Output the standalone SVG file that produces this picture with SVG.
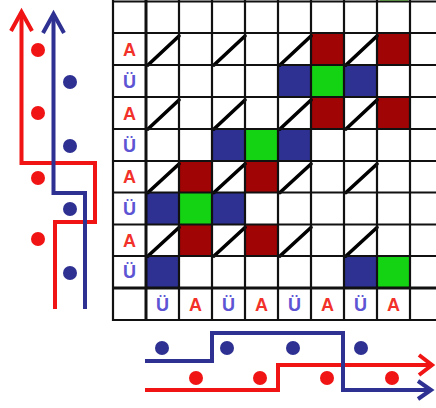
<svg xmlns="http://www.w3.org/2000/svg" width="436" height="408" viewBox="0 0 436 408">
<style>
.dr{fill:#a00404}
.bl{fill:#2e3192}
.gr{fill:#13d313}
.grid{stroke:#111;stroke-width:2.2;fill:none}
.thick{stroke:#111;stroke-width:3;fill:none}
.dg{stroke:#000;stroke-width:3.6;stroke-linecap:round}
.lbl{font-family:"Liberation Sans",Arial,sans-serif;font-weight:bold;font-size:18px;text-anchor:middle}
.a{fill:#f2322a}
.u{fill:#5d55d4}
.rl{stroke:#f01414;stroke-width:4;fill:none}
.bll{stroke:#2e3192;stroke-width:4;fill:none}
.rd{fill:#f01414}
.bd{fill:#2e3192}
</style>
<defs>
<marker id="rUp" markerUnits="userSpaceOnUse" orient="auto" markerWidth="40" markerHeight="40" refX="0" refY="0" viewBox="-30 -20 40 40" overflow="visible">
<path d="M-19,-10.5 L0,0 L-19,10.5" stroke="#f01414" stroke-width="4" fill="none"/>
</marker>
<marker id="bUp" markerUnits="userSpaceOnUse" orient="auto" markerWidth="40" markerHeight="40" refX="0" refY="0" viewBox="-30 -20 40 40" overflow="visible">
<path d="M-19,-10.5 L0,0 L-19,10.5" stroke="#2e3192" stroke-width="4" fill="none"/>
</marker>
<marker id="rR" markerUnits="userSpaceOnUse" orient="auto" markerWidth="40" markerHeight="40" refX="0" refY="0" viewBox="-30 -20 40 40" overflow="visible">
<path d="M-13,-10 L0,0 L-13,10" stroke="#f01414" stroke-width="4" fill="none"/>
</marker>
<marker id="bR" markerUnits="userSpaceOnUse" orient="auto" markerWidth="40" markerHeight="40" refX="0" refY="0" viewBox="-30 -20 40 40" overflow="visible">
<path d="M-13,-9 L0,0 L-13,9" stroke="#2e3192" stroke-width="4" fill="none"/>
</marker>
</defs>
<rect width="436" height="408" fill="#fff"/>
<g id="cells">
<rect class="dr" x="311" y="33" width="33" height="32"/>
<rect class="dr" x="377" y="33" width="33" height="32"/>
<rect class="dr" x="311" y="97" width="33" height="32"/>
<rect class="dr" x="377" y="97" width="33" height="32"/>
<rect class="dr" x="179" y="161" width="33" height="31.5"/>
<rect class="dr" x="245" y="161" width="33" height="31.5"/>
<rect class="dr" x="179" y="224.5" width="33" height="31.5"/>
<rect class="dr" x="245" y="224.5" width="33" height="31.5"/>
<rect class="bl" x="278" y="65" width="33" height="32"/>
<rect class="bl" x="344" y="65" width="33" height="32"/>
<rect class="bl" x="212" y="129" width="33" height="32"/>
<rect class="bl" x="278" y="129" width="33" height="32"/>
<rect class="bl" x="146" y="192.5" width="33" height="32"/>
<rect class="bl" x="212" y="192.5" width="33" height="32"/>
<rect class="bl" x="146" y="256" width="33" height="32"/>
<rect class="bl" x="344" y="256" width="33" height="32"/>
<rect class="gr" x="311" y="65" width="33" height="32"/>
<rect class="gr" x="245" y="129" width="33" height="32"/>
<rect class="gr" x="179" y="192.5" width="33" height="32"/>
<rect class="gr" x="377" y="256" width="33" height="32"/>
</g>
<g id="diagonals">
<path class="dg" d="M148,65 L179,36 M214,65 L245,36 M280,65 L311,36 M346,65 L377,36
M148,129 L179,100 M214,129 L245,100 M280,129 L311,100 M346,129 L377,100
M148,192.5 L179,164 M214,192.5 L245,164 M280,192.5 L311,164 M346,192.5 L377,164
M148,256 L179,227.5 M214,256 L245,227.5 M280,256 L311,227.5 M346,256 L377,227.5"/>
</g>
<g id="gridlines">
<path class="grid" d="M113,1.5 H436 M113,33 H436 M113,65 H436 M113,97 H436 M113,129 H436 M113,161 H436 M113,192.5 H436 M113,224.5 H436 M113,256 H436 M113,320 H436
M113,0 V321 M179,0 V321 M212,0 V321 M245,0 V321 M278,0 V321 M311,0 V321 M344,0 V321 M377,0 V321 M410,0 V321"/>
<path class="thick" d="M146,0 V321 M113,288 H436"/>
</g>
<rect x="380" y="0" width="28" height="0.8" fill="#4f8f35"/>
<g id="labels" class="lbl">
<text class="a" x="129.5" y="55.5">A</text>
<text class="u" x="129.5" y="87.5">Ü</text>
<text class="a" x="129.5" y="119.5">A</text>
<text class="u" x="129.5" y="151.5">Ü</text>
<text class="a" x="129.5" y="183">A</text>
<text class="u" x="129.5" y="214.5">Ü</text>
<text class="a" x="129.5" y="246.5">A</text>
<text class="u" x="129.5" y="278">Ü</text>
<text class="u" x="162.5" y="310.5">Ü</text>
<text class="a" x="195.5" y="310.5">A</text>
<text class="u" x="228.5" y="310.5">Ü</text>
<text class="a" x="261.5" y="310.5">A</text>
<text class="u" x="294.5" y="310.5">Ü</text>
<text class="a" x="327.5" y="310.5">A</text>
<text class="u" x="360.5" y="310.5">Ü</text>
<text class="a" x="393.5" y="310.5">A</text>
</g>
<g id="connectors">
<path class="rl" d="M55,309 V222 H95 V163 H21.5 V12" marker-end="url(#rUp)"/>
<path class="bll" d="M85,309 V193 H53.5 V14" marker-end="url(#bUp)"/>
<path class="rl" d="M145,390 H278 V365 H432" marker-end="url(#rR)"/>
<path class="bll" d="M145,361 H212 V333 H343 V390 H431" marker-end="url(#bR)"/>
</g>
<g id="dots">
<circle class="rd" cx="38" cy="50" r="7"/>
<circle class="rd" cx="38" cy="113" r="7"/>
<circle class="rd" cx="38" cy="178" r="7"/>
<circle class="rd" cx="38" cy="239" r="7"/>
<circle class="bd" cx="70" cy="82" r="7"/>
<circle class="bd" cx="70" cy="146" r="7"/>
<circle class="bd" cx="70" cy="209" r="7"/>
<circle class="bd" cx="70" cy="273" r="7"/>
<circle class="bd" cx="162" cy="348" r="7"/>
<circle class="bd" cx="227" cy="348" r="7"/>
<circle class="bd" cx="293" cy="348" r="7"/>
<circle class="bd" cx="361" cy="348" r="7"/>
<circle class="rd" cx="196" cy="378" r="7"/>
<circle class="rd" cx="260" cy="378" r="7"/>
<circle class="rd" cx="327" cy="378" r="7"/>
<circle class="rd" cx="392" cy="378" r="7"/>
</g>
</svg>
